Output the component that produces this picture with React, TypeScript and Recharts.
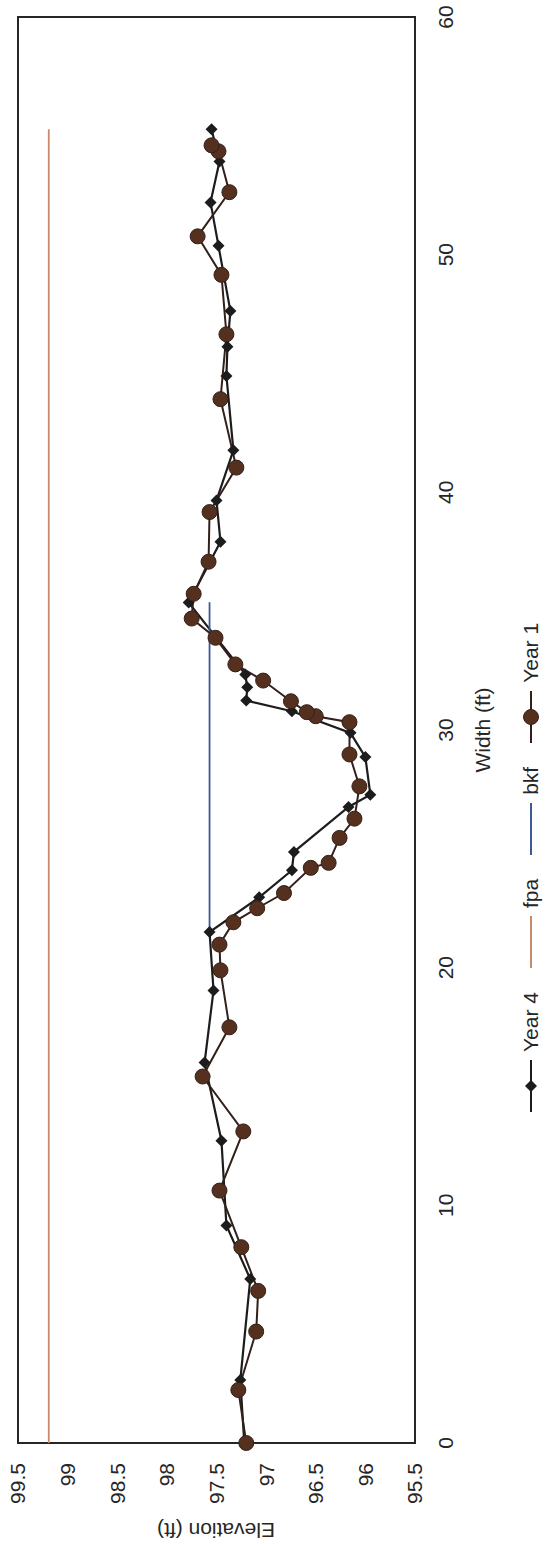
import React from "react";
import {
  LineChart,
  Line,
  XAxis,
  YAxis,
  Legend,
  Label,
  ReferenceArea,
} from "recharts";

// Cross-section survey: width along the section (ft) vs. elevation (ft)
const year4Width = [
  0, 2.65, 6.9, 9.15, 12.72, 16.01, 19.04, 21.5, 22.96, 24.1, 24.87, 26.76,
  27.28, 28.86, 29.88, 30.79, 31.24, 31.8, 32.34, 35.36, 37.92, 39.66, 41.77,
  44.9, 46.13, 47.63, 50.37, 52.2, 53.92, 55.28,
];
const year4Elev = [
  97.22, 97.26, 97.16, 97.4, 97.45, 97.62, 97.53, 97.57, 97.07, 96.74, 96.72,
  96.17, 95.95, 96.0, 96.15, 96.74, 97.2, 97.19, 97.21, 97.78, 97.46, 97.5,
  97.33, 97.4, 97.39, 97.36, 97.48, 97.56, 97.47, 97.55,
];

const year1Width = [
  0, 2.23, 4.69, 6.4, 8.24, 10.62, 13.11, 15.42, 17.49, 19.89, 20.97, 21.91,
  22.5, 23.14, 24.2, 24.41, 25.46, 26.27, 27.63, 28.97, 30.33, 30.58, 30.75,
  31.21, 32.08, 32.76, 33.88, 34.69, 35.73, 37.08, 39.17, 41.04, 43.92, 46.65,
  49.15, 50.77, 52.63, 54.35, 54.6,
];
const year1Elev = [
  97.2, 97.28, 97.1, 97.08, 97.25, 97.47, 97.23, 97.64, 97.37, 97.46, 97.47,
  97.33, 97.09, 96.82, 96.55, 96.37, 96.26, 96.11, 96.06, 96.16, 96.16, 96.5,
  96.59, 96.75, 97.03, 97.31, 97.51, 97.75, 97.73, 97.58, 97.57, 97.3, 97.46,
  97.4, 97.45, 97.69, 97.37, 97.48, 97.55,
];

// flood-prone area and bankfull elevations
const fpaWidth = [0, 55.28];
const fpaElev = [99.19, 99.19];
const bkfWidth = [21.5, 35.37];
const bkfElev = [97.57, 97.57];

const widthTicks = [0, 10, 20, 30, 40, 50, 60];
const elevTicks = [95.5, 96, 96.5, 97, 97.5, 98, 98.5, 99, 99.5];

const toPoints = (w: number[], e: number[]) =>
  w.map((x, i) => ({ w: x, e: e[i] }));

const year4 = toPoints(year4Width, year4Elev);
const year1 = toPoints(year1Width, year1Elev);
const fpa = toPoints(fpaWidth, fpaElev);
const bkf = toPoints(bkfWidth, bkfElev);

const TEXT = "#262626";
const Y4_COLOR = "#1c1c1c";
const Y1_LINE = "#33201a";
const Y1_FILL = "#55301f";
const FPA_COLOR = "#c98a6c";
const BKF_COLOR = "#3d5a96";

const Diamond = (props: any) => {
  const { cx, cy, index } = props;
  if (cx == null || cy == null) return null;
  const s = 6;
  return (
    <path
      key={`dm-${index}`}
      d={`M${cx},${cy - s}L${cx + s},${cy}L${cx},${cy + s}L${cx - s},${cy}Z`}
      fill={Y4_COLOR}
    />
  );
};

const legendItems = [
  { name: "Year 4", color: Y4_COLOR, marker: "diamond" },
  { name: "fpa", color: FPA_COLOR, marker: "none" },
  { name: "bkf", color: BKF_COLOR, marker: "none" },
  { name: "Year 1", color: Y1_LINE, marker: "circle" },
];

const renderLegend = () => (
  <div
    style={{
      display: "flex",
      alignItems: "center",
      fontSize: 21,
      color: TEXT,
      whiteSpace: "nowrap",
      lineHeight: "24px",
    }}
  >
    {legendItems.map((it, i) => (
      <div
        key={it.name}
        style={{
          display: "flex",
          alignItems: "center",
          marginRight: i < legendItems.length - 1 ? 24 : 0,
        }}
      >
        <svg width={52} height={20} style={{ display: "block" }}>
          <line x1={0} y1={10} x2={52} y2={10} stroke={it.color} strokeWidth={2} />
          {it.marker === "diamond" && (
            <path d="M26,4L32,10L26,16L20,10Z" fill={Y4_COLOR} />
          )}
          {it.marker === "circle" && (
            <circle cx={26} cy={10} r={7.5} fill={Y1_FILL} stroke={Y1_LINE} />
          )}
        </svg>
        <span style={{ marginLeft: 8 }}>{it.name}</span>
      </div>
    ))}
  </div>
);

const ElevationTitle = () => (
  <text
    x={14}
    y={216}
    transform="rotate(-90 14 216)"
    textAnchor="middle"
    dominantBaseline="central"
    fontSize={21}
    fill={TEXT}
  >
    Elevation (ft)
  </text>
);

const App: React.FC = () => {
  return (
    <div
      style={{
        position: "absolute",
        left: 0,
        top: 0,
        width: 554,
        height: 1544,
        overflow: "hidden",
        background: "#fff",
        fontFamily: "'Liberation Sans', Arial, sans-serif",
      }}
    >
      <div
        style={{
          position: "absolute",
          left: 0,
          top: 0,
          width: 1544,
          height: 554,
          transformOrigin: "0 0",
          transform: "translate(0px, 1544px) rotate(-90deg)",
        }}
      >
        <LineChart
          width={1544}
          height={554}
          margin={{ top: 18, right: 17, bottom: 79, left: 0 }}
        >
          <XAxis
            dataKey="w"
            type="number"
            domain={[0, 60]}
            ticks={widthTicks}
            axisLine={false}
            tickLine={false}
            tickSize={0}
            tickMargin={23}
            height={60}
            tick={{ fontSize: 21, fill: TEXT }}
          >
            <Label
              value="Width (ft)"
              position="bottom"
              offset={0}
              style={{ fontSize: 21, fill: TEXT }}
            />
          </XAxis>
          <YAxis
            dataKey="e"
            type="number"
            domain={[95.5, 99.5]}
            ticks={elevTicks}
            axisLine={false}
            tickLine={false}
            tickSize={0}
            tickMargin={20}
            width={101}
            tick={{ fontSize: 21, fill: TEXT }}
          >
            <Label content={() => <ElevationTitle />} />
          </YAxis>
          <ReferenceArea
            x1={0}
            x2={60}
            y1={95.5}
            y2={99.5}
            fill="none"
            fillOpacity={0}
            stroke={TEXT}
            strokeWidth={2}
            ifOverflow="visible"
          />
          <Legend
            layout="horizontal"
            verticalAlign="middle"
            align="center"
            content={renderLegend}
            wrapperStyle={{ left: 432, top: 519, bottom: "auto", width: "auto" }}
          />
          <Line
            data={year4}
            dataKey="e"
            name="Year 4"
            stroke={Y4_COLOR}
            strokeWidth={2.2}
            dot={(p: any) => <Diamond key={`d4-${p.index}`} {...p} />}
            activeDot={false}
            isAnimationActive={false}
          />
          <Line
            data={fpa}
            dataKey="e"
            name="fpa"
            stroke={FPA_COLOR}
            strokeWidth={1.8}
            dot={false}
            activeDot={false}
            isAnimationActive={false}
          />
          <Line
            data={bkf}
            dataKey="e"
            name="bkf"
            stroke={BKF_COLOR}
            strokeWidth={1.8}
            dot={false}
            activeDot={false}
            isAnimationActive={false}
          />
          <Line
            data={year1}
            dataKey="e"
            name="Year 1"
            stroke={Y1_LINE}
            strokeWidth={2}
            dot={{ r: 7.5, fill: Y1_FILL, stroke: Y1_LINE, strokeWidth: 1 }}
            activeDot={false}
            isAnimationActive={false}
          />
        </LineChart>
      </div>
    </div>
  );
};

export default App;
